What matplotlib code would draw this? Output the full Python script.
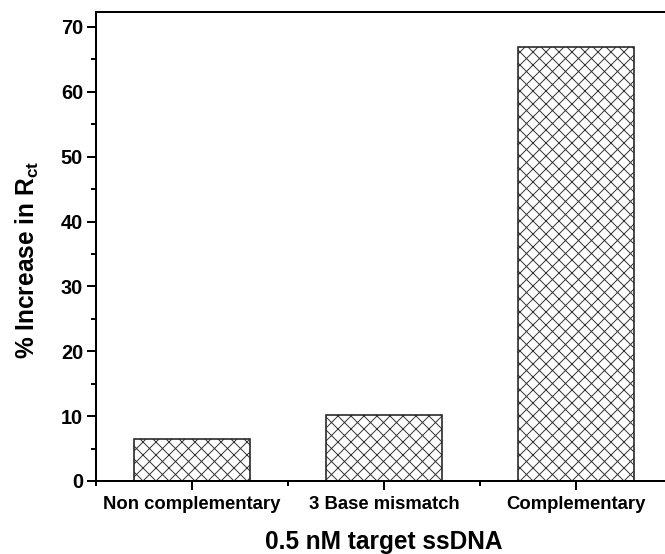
import matplotlib
matplotlib.use("Agg")
import matplotlib.pyplot as plt
from matplotlib.ticker import MultipleLocator, FixedLocator

categories = ["Non complementary", "3 Base mismatch", "Complementary"]
values = [6.4, 10.1, 66.9]

DPI = 78
W, H = 665, 554
def pt(px):
    return px * 72.0 / DPI

plt.rcParams['font.family'] = ['Liberation Sans', 'DejaVu Sans']
plt.rcParams['font.weight'] = 'bold'
plt.rcParams['mathtext.fontset'] = 'custom'
plt.rcParams['mathtext.rm'] = 'Liberation Sans:bold'
plt.rcParams['mathtext.it'] = 'Liberation Sans:bold'
plt.rcParams['mathtext.bf'] = 'Liberation Sans:bold'
plt.rcParams['hatch.linewidth'] = 0.9
plt.rcParams['hatch.color'] = '#333333'

fig = plt.figure(figsize=(W / DPI, H / DPI), dpi=DPI)
left, right, bottom, top = 96, 672, 481, 12
ax = fig.add_axes([left / W, (H - bottom) / H, (right - left) / W, (bottom - top) / H])

x = list(range(1, len(categories) + 1))
ax.bar(x, values, width=0.6, color='white', edgecolor='#333333', hatch='xx', linewidth=0)
ax.bar(x, values, width=0.6, fill=False, edgecolor='#222222', linewidth=pt(1.6))

ax.set_xlim(0.5, 3.5)
ax.set_ylim(0, 72.3)
ax.yaxis.set_major_locator(MultipleLocator(10))
ax.yaxis.set_minor_locator(MultipleLocator(5))
ax.xaxis.set_major_locator(FixedLocator(x))
ax.xaxis.set_minor_locator(FixedLocator([0.5, 1.5, 2.5, 3.5]))
ax.set_xticklabels(categories)

for s in ax.spines.values():
    s.set_linewidth(pt(2))
ax.tick_params(which='major', direction='out', length=pt(9), width=pt(2), labelsize=pt(20), pad=pt(4))
ax.tick_params(which='minor', direction='out', length=pt(5), width=pt(2))
ax.tick_params(axis='x', which='major', labelsize=pt(18.5), pad=pt(6))
ax.tick_params(top=False, right=False, which='both')

ax.set_xlabel("0.5 nM target ssDNA", fontsize=pt(24.5), fontweight='bold', labelpad=pt(17))
fig.text(27 / W, 1 - 260 / H, "% Increase in R$_{\\rm ct}$", fontsize=pt(24.5), fontweight='bold',
         rotation=90, ha='center', va='center')

fig.savefig("out.png", dpi=DPI)
